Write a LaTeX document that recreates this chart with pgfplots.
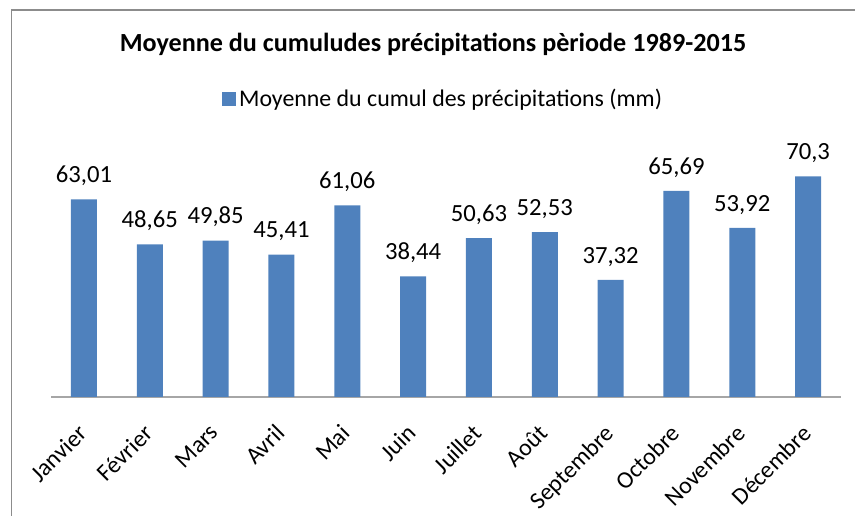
\documentclass[border=0pt]{standalone}
\usepackage{pgfplots}
\pgfplotsset{compat=1.18}
\usepackage{fontspec}
\setmainfont{Carlito}
\definecolor{barblue}{HTML}{4F81BD}
\definecolor{axisgray}{HTML}{A6A6A6}
\definecolor{framegray}{HTML}{8C8C8C}
\begin{document}
\begin{tikzpicture}
\path[use as bounding box] (0pt,0pt) rectangle (641.25pt,387pt);
\draw[framegray, line width=1.3pt] (8.6pt,-2pt) -- (8.6pt,379.5pt) -- (645pt,379.5pt);
\begin{axis}[
  at={(38.25pt,89.25pt)}, anchor=south west,
  scale only axis, width=592.5pt, height=188.25pt,
  xmin=-0.5, xmax=11.5, ymin=0, ymax=80,
  axis x line=bottom, axis y line=none,
  axis line style={draw=axisgray, line width=1.2pt, -},
  xtick=data,
  xticklabels={Janvier,Février,Mars,Avril,Mai,Juin,Juillet,Août,Septembre,Octobre,Novembre,Décembre},
  xtick style={draw=none},
  x tick label style={rotate=45, anchor=north east, font=\fontsize{18}{21}\selectfont, inner sep=2pt, xshift=-12.5pt, yshift=-5pt},
  ytick=\empty,
  ybar, bar width=19.5pt,
  point meta=explicit symbolic,
  nodes near coords,
  every node near coord/.append style={anchor=base, inner sep=0pt, yshift=12.5pt, font=\fontsize{18.5}{22}\selectfont, black},
  legend style={at={(0.497,1.187)}, anchor=center, draw=none, fill=none, font=\fontsize{17.9}{21}\selectfont},
  legend image code/.code={\fill[barblue] (0pt,-5.5pt) rectangle (10.5pt,5.5pt);},
  clip=false,
]
\addplot[fill=barblue, draw=none] coordinates {
  (0,63.01) [63,01]
  (1,48.65) [48,65]
  (2,49.85) [49,85]
  (3,45.41) [45,41]
  (4,61.06) [61,06]
  (5,38.44) [38,44]
  (6,50.63) [50,63]
  (7,52.53) [52,53]
  (8,37.32) [37,32]
  (9,65.69) [65,69]
  (10,53.92) [53,92]
  (11,70.3) [70,3]
};
\addlegendentry{Moyenne du cumul des précipitations (mm)}
\end{axis}
\node[font=\fontsize{19.6}{23}\selectfont\bfseries] at (324.75pt,354pt) {Moyenne du cumuludes précipitations pèriode 1989-2015};
\end{tikzpicture}
\end{document}
